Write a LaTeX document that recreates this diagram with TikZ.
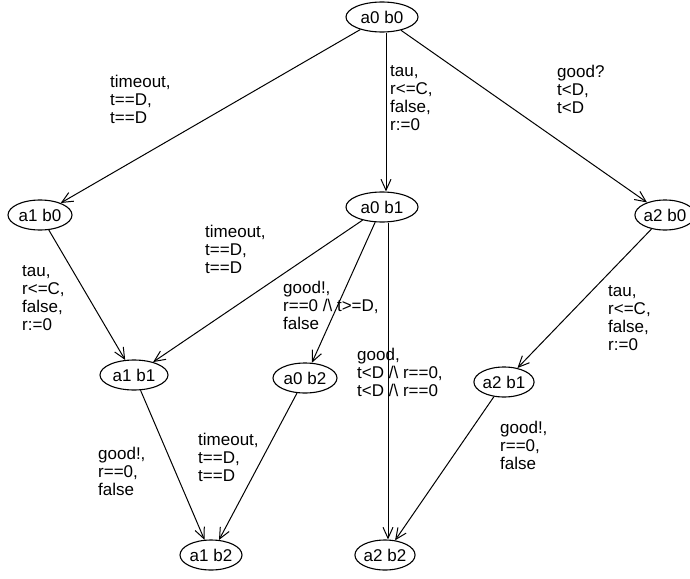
\documentclass[tikz,border=0pt]{standalone}
\usepackage{fontspec}
\setmainfont{Liberation Sans}
\usetikzlibrary{shapes.geometric,arrows.meta}
\begin{document}
\begin{tikzpicture}[x=1pt,y=-1pt,
  state/.style={draw,ellipse,line width=1.1pt,inner sep=0pt,minimum height=30pt,font=\fontsize{17}{18}\selectfont},
  lbl/.style={anchor=north west,align=left,inner sep=0pt,font=\fontsize{17}{18}\selectfont},
  edge/.style={line width=1pt,-{Straight Barb[length=11pt,width=10pt]}}]
\useasboundingbox (0,0) rectangle (690,578);
\node[state,minimum width=72pt] (a0b0) at (382,17) {a0 b0};
\node[state,minimum width=64pt] (a1b0) at (40,215) {a1 b0};
\node[state,minimum width=72pt] (a0b1) at (382,207) {a0 b1};
\node[state,minimum width=56pt] (a2b0) at (665,215) {a2 b0};
\node[state,minimum width=68pt] (a1b1) at (134,375) {a1 b1};
\node[state,minimum width=64pt] (a0b2) at (305,378) {a0 b2};
\node[state,minimum width=60pt] (a2b1) at (504,382) {a2 b1};
\node[state,minimum width=62pt] (a1b2) at (211,555) {a1 b2};
\node[state,minimum width=60pt] (a2b2) at (385,555) {a2 b2};

\draw[edge] (a0b0) -- (a1b0);
\draw[edge] ([xshift=4pt]a0b0.south) -- ([xshift=4pt]a0b1.north);
\draw[edge] (a0b0) -- (a2b0);
\draw[edge] (a1b0) -- (a1b1);
\draw[edge] (a0b1) -- (a1b1);
\draw[edge] (a0b1) -- (a0b2);
\draw[edge] ([xshift=6pt]a0b1.south) -- ([xshift=3pt]a2b2.north);
\draw[edge] (a2b0) -- (a2b1);
\draw[edge] (a1b1) -- (a1b2);
\draw[edge] (a0b2) -- (a1b2);
\draw[edge] (a2b1) -- (a2b2);

\node[lbl] (l1) at (110,75) {timeout,\\t==D,\\t==D};
\node[lbl] (l2) at (390,65) {tau,\\r<=C,\\false,\\r:=0};
\node[lbl] (l3) at (557,65) {good?\\t<D,\\t<D};
\node[lbl] (l4) at (22,265) {tau,\\r<=C,\\false,\\r:=0};
\node[lbl] (l5) at (205,225) {timeout,\\t==D,\\t==D};
\node[lbl] (l6) at (283,281) {good!,\\r==0 /\textbackslash\ t>=D,\\false};
\node[lbl] (l7) at (357,348) {good,\\t<D /\textbackslash\ r==0,\\t<D /\textbackslash\ r==0};
\node[lbl] (l8) at (608,285) {tau,\\r<=C,\\false,\\r:=0};
\node[lbl] (l9) at (98,447) {good!,\\r==0,\\false};
\node[lbl] (l10) at (198,433) {timeout,\\t==D,\\t==D};
\node[lbl] (l11) at (500,421) {good!,\\r==0,\\false};
\end{tikzpicture}
\end{document}
